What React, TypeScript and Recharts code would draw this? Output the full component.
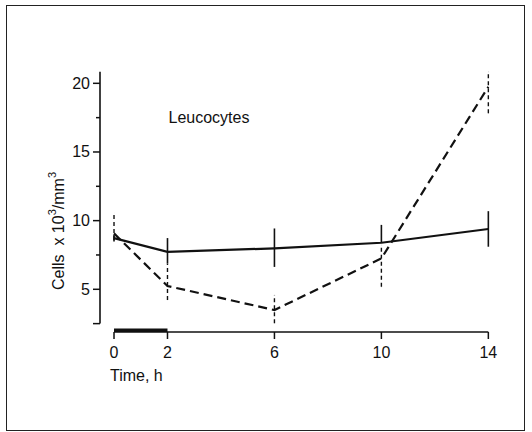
import { ErrorBar, Label, Line, LineChart, ReferenceArea, ReferenceDot, ReferenceLine, XAxis, YAxis } from "recharts"

// time points (h)
const hours = [0, 2, 6, 10, 14]
// solid curve, cells x10^3/mm^3, with [low, high] error
const solidValues = [8.73, 7.73, 7.98, 8.39, 9.39]
const solidErrors = [[0.25, 0.25], [0.85, 1.0], [1.35, 1.45], [0, 1.3], [1.29, 1.3]]
// dashed curve
const dashedValues = [9.07, 5.24, 3.49, 7.25, 19.75]
const dashedErrors = [[0.48, 1.48], [1.02, 1.64], [0.97, 1.09], [2.06, 0.97], [1.93, 1.09]]

const xTicks = [0, 2, 6, 10, 14]
const yTicks = [2.5, 5, 7.5, 10, 12.5, 15, 17.5, 20]
const yLabelled = [5, 10, 15, 20]
const treatment = [0, 2]

const xMin = -0.524
const xMax = 14.436
const yMin = 1.89
const yMax = 20.97
const yAxisTop = 20.85

const font = '"Liberation Sans", Arial, sans-serif'
const ink = "#111"

const data = hours.map((hour, i) => ({
  hour,
  solid: solidValues[i],
  solidErr: solidErrors[i],
  dashed: dashedValues[i],
  dashedErr: dashedErrors[i],
}))

function YTick({ x, y, payload }: any) {
  const major = payload.value % 5 === 0 || payload.value === 2.5
  return (
    <g>
      <line x1={x - (major ? 7 : 4)} x2={x} y1={y} y2={y} stroke={ink} strokeWidth={1.5} />
      {yLabelled.includes(payload.value) && (
        <text x={x - 10} y={y} textAnchor="end" dominantBaseline="central" fontSize={16} fontFamily={font} fill={ink}>
          {payload.value}
        </text>
      )}
    </g>
  )
}

function XTick({ x, y, payload }: any) {
  return (
    <g>
      <line x1={x} x2={x} y1={y} y2={y + 7} stroke={ink} strokeWidth={1.5} />
      <text x={x} y={y + 20} textAnchor="middle" dominantBaseline="central" fontSize={16} fontFamily={font} fill={ink}>
        {payload.value}
      </text>
    </g>
  )
}

function YTitle({ viewBox }: any) {
  const cx = viewBox.x + 58
  const cy = viewBox.y + 161
  return (
    <text
      x={cx}
      y={cy}
      transform={`rotate(-90 ${cx} ${cy})`}
      textAnchor="middle"
      dominantBaseline="central"
      fontSize={16}
      fontFamily={font}
      fill={ink}
      style={{ whiteSpace: "pre" }}
    >
      {"Cells  x 10"}
      <tspan dy={-6} fontSize={11}>3</tspan>
      <tspan dy={6}>/mm</tspan>
      <tspan dy={-6} fontSize={11}>3</tspan>
    </text>
  )
}

function XTitle({ viewBox }: any) {
  return (
    <text x={viewBox.x + 10} y={viewBox.y + 49} fontSize={16} fontFamily={font} fill={ink}>
      Time, h
    </text>
  )
}

export default function App() {
  return (
    <div style={{ position: "absolute", left: 0, top: 0, width: 532, height: 432, background: "#fff" }}>
      <div
        style={{
          position: "absolute",
          left: 6,
          top: 5,
          width: 519,
          height: 426,
          border: "1.5px solid #222",
          boxSizing: "border-box",
        }}
      />
      <LineChart width={532} height={432} data={data} margin={{ top: 70, right: 32, bottom: 40, left: 0 }}>
        <XAxis
          type="number"
          dataKey="hour"
          domain={[xMin, xMax]}
          ticks={xTicks}
          interval={0}
          allowDataOverflow
          axisLine={false}
          tickLine={false}
          tickSize={0}
          tickMargin={0}
          height={60}
          tick={<XTick />}
          label={<XTitle />}
        />
        <YAxis
          type="number"
          domain={[yMin, yMax]}
          ticks={yTicks}
          interval={0}
          allowDataOverflow
          axisLine={false}
          tickLine={false}
          tickSize={0}
          tickMargin={0}
          width={100}
          tick={<YTick />}
          label={<YTitle />}
        />
        <ReferenceLine
          segment={[{ x: xMin, y: 2.5 }, { x: xMin, y: yAxisTop }]}
          stroke={ink}
          strokeWidth={1.6}
        />
        <ReferenceLine
          segment={[{ x: xTicks[0], y: yMin }, { x: xTicks[xTicks.length - 1], y: yMin }]}
          stroke={ink}
          strokeWidth={1.6}
        />
        <ReferenceArea
          x1={treatment[0]}
          x2={treatment[1]}
          y1={yMin}
          y2={yMin + 0.26}
          fill={ink}
          fillOpacity={1}
          stroke="none"
        />
        <ReferenceDot
          x={2}
          y={17.5}
          r={1}
          fill="none"
          stroke="none"
          label={<Label value="Leucocytes" position="right" offset={0} fontSize={16} fontFamily={font} fill={ink} />}
        />
        <Line
          type="linear"
          dataKey="dashed"
          stroke={ink}
          strokeWidth={2.2}
          strokeDasharray="9 5"
          dot={false}
          activeDot={false}
          isAnimationActive={false}
        >
          <ErrorBar dataKey="dashedErr" width={0} stroke={ink} strokeWidth={1.4} strokeDasharray="4 3" />
        </Line>
        <Line
          type="linear"
          dataKey="solid"
          stroke={ink}
          strokeWidth={2.2}
          dot={false}
          activeDot={false}
          isAnimationActive={false}
        >
          <ErrorBar dataKey="solidErr" width={0} stroke={ink} strokeWidth={1.6} />
        </Line>
      </LineChart>
    </div>
  )
}
